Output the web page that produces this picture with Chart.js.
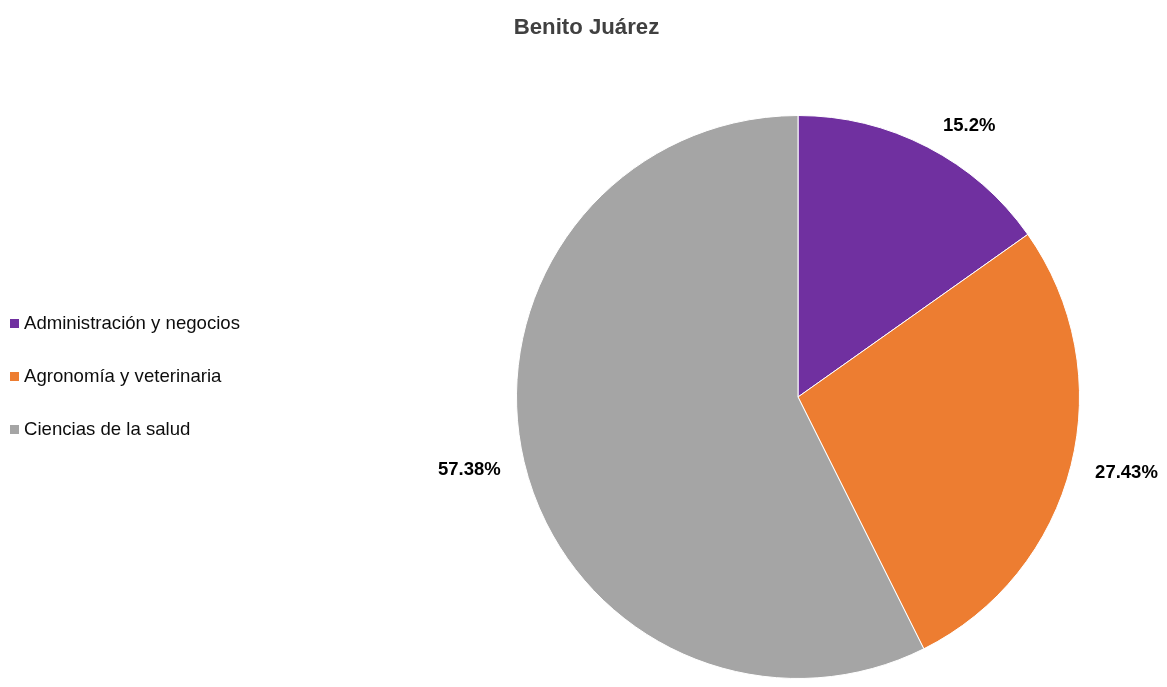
<!DOCTYPE html>
<html>
<head>
<meta charset="utf-8">
<script src="https://cdn.jsdelivr.net/npm/chart.js@4/dist/chart.umd.min.js"></script>
<style>
  body { margin: 0; background: #fff; font-family: "Liberation Sans", Arial, sans-serif; }
  #wrap { position: relative; width: 1167px; height: 687px; }
  #title { position: absolute; top: 14px; left: 0; width: 1173px; text-align: center; font-weight: bold; font-size: 22.2px; color: #404040; }
  #legend { position: absolute; left: 10px; top: 311px; }
  .item { height: 53px; font-size: 18.6px; color: #0d0d0d; line-height: 24px; white-space: nowrap; }
  .box { display: inline-block; width: 9px; height: 9px; margin-right: 5px; vertical-align: 1px; }
</style>
</head>
<body>
<div id="wrap">
  <canvas id="chart" width="1167" height="687"></canvas>
  <div id="title">Benito Juárez</div>
  <div id="legend"></div>
</div>
<script>
// datos
var categorias = ['Administración y negocios', 'Agronomía y veterinaria', 'Ciencias de la salud'];
var porcentajes = [15.2, 27.43, 57.38];
var etiquetas = ['15.2%', '27.43%', '57.38%'];
var colores = ['#7030A0', '#ED7D31', '#A5A5A5'];

// leyenda html
var legendHtml = '';
for (var i = 0; i < categorias.length; i++) {
  legendHtml += '<div class="item"><span class="box" style="background:' + colores[i] + '"></span>' + categorias[i] + '</div>';
}
document.getElementById('legend').innerHTML = legendHtml;

// desplazamiento de etiquetas (px)
var ajuste = [[18, 25], [5, -5], [-4, -4]];

var etiquetasPlugin = {
  id: 'etiquetas',
  afterDatasetsDraw: function(chart) {
    var ctx = chart.ctx;
    var meta = chart.getDatasetMeta(0);
    ctx.save();
    ctx.font = 'bold 18.5px "Liberation Sans", Arial, sans-serif';
    ctx.fillStyle = '#000';
    ctx.textAlign = 'center';
    ctx.textBaseline = 'middle';
    meta.data.forEach(function(arc, i) {
      var a = (arc.startAngle + arc.endAngle) / 2;
      var d = arc.outerRadius + 52;
      var x = arc.x + d * Math.cos(a) + ajuste[i][0];
      var y = arc.y + d * Math.sin(a) + ajuste[i][1];
      ctx.fillText(etiquetas[i], x, y);
    });
    ctx.restore();
  }
};

new Chart(document.getElementById('chart'), {
  type: 'pie',
  data: {
    labels: categorias,
    datasets: [{
      data: porcentajes,
      backgroundColor: colores,
      borderColor: '#ffffff',
      borderWidth: 1,
      hoverOffset: 0
    }]
  },
  options: {
    responsive: false,
    animation: false,
    events: [],
    layout: { padding: { left: 516, right: 87, top: 115, bottom: 8 } },
    plugins: {
      legend: { display: false },
      title: { display: false },
      tooltip: { enabled: false }
    }
  },
  plugins: [etiquetasPlugin]
});
</script>
</body>
</html>
